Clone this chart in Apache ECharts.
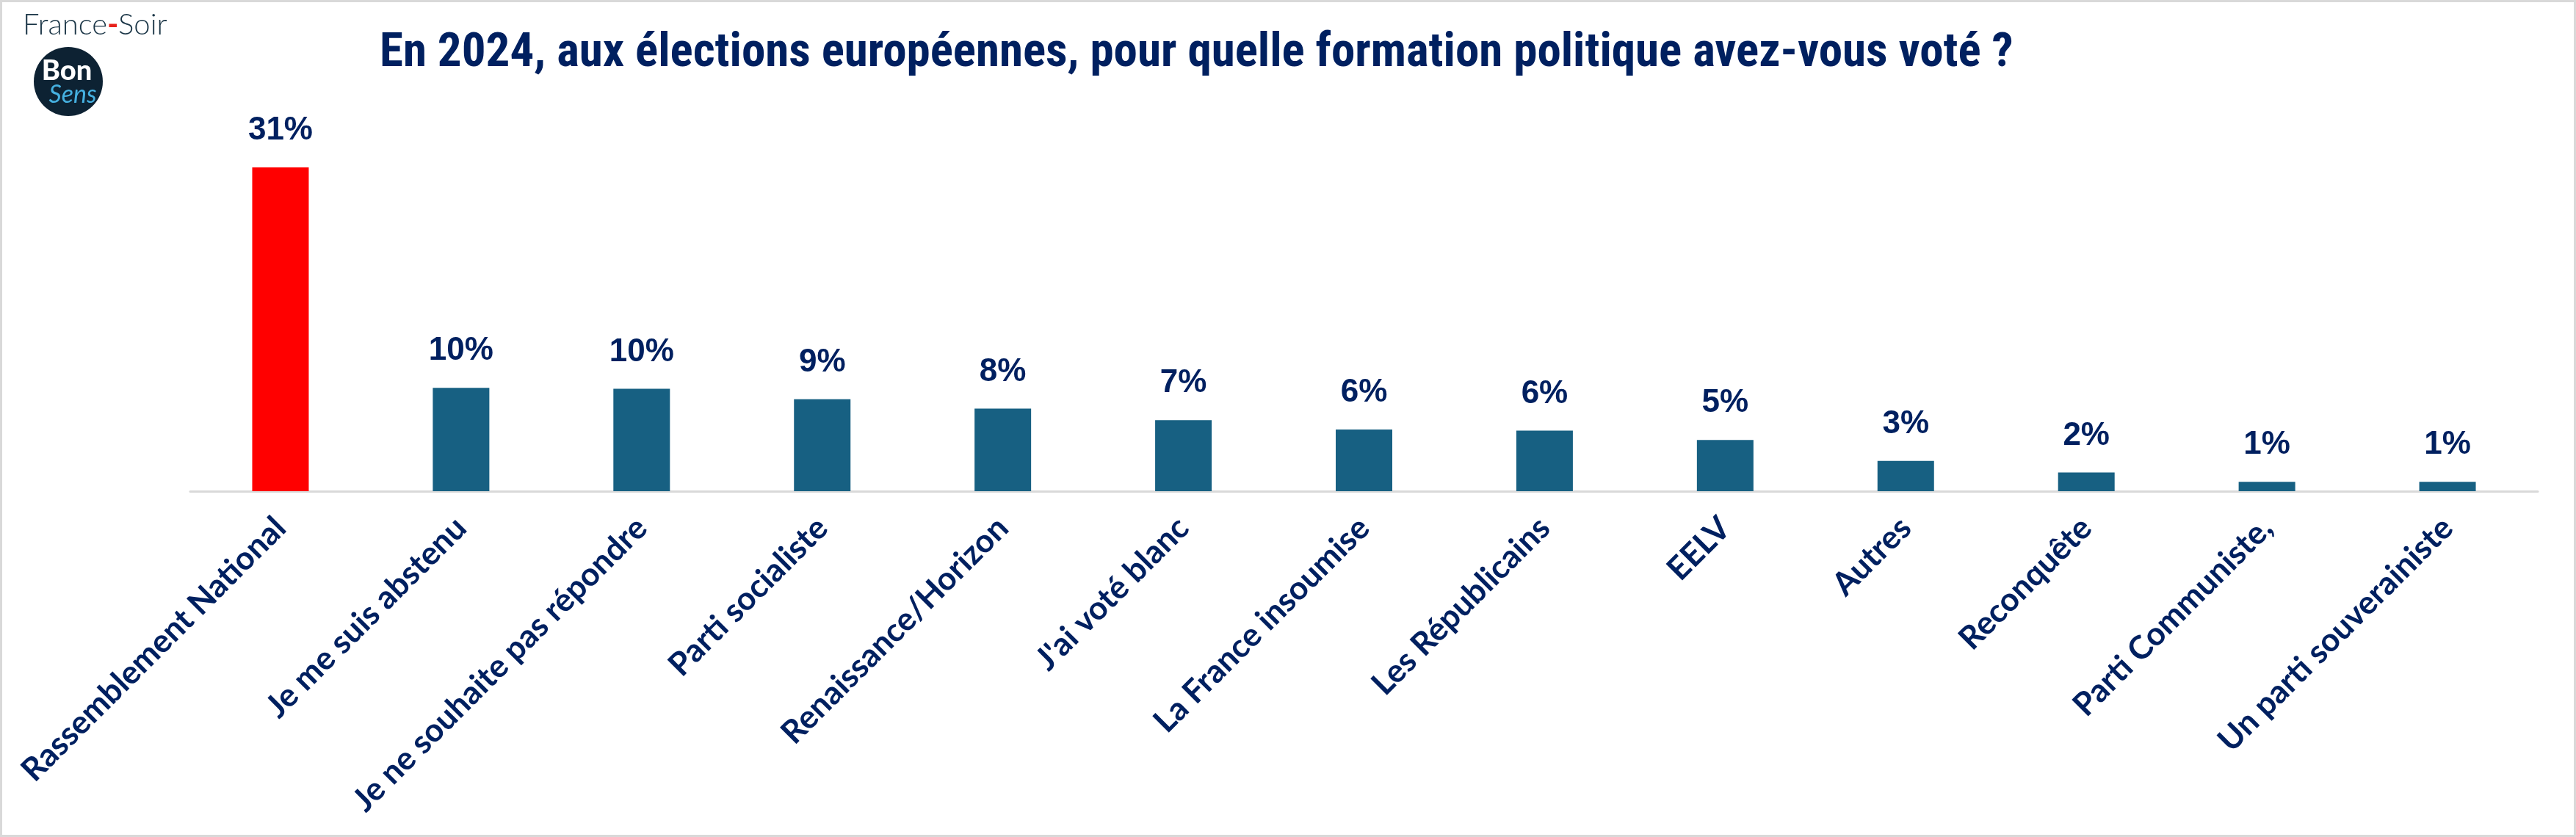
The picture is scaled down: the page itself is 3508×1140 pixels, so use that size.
<!DOCTYPE html>
<html>
<head>
<meta charset="utf-8">
<script src="https://cdn.jsdelivr.net/npm/echarts@6/dist/echarts.min.js"></script>
<style>
html,body{margin:0;padding:0;background:#fff;}
#chart{width:3508px;height:1140px;}
</style>
</head>
<body>
<div id="chart"></div>
<script>
const titleText = "En 2024, aux élections européennes, pour quelle formation politique avez-vous voté ?";
const categories = [
  "Rassemblement National",
  "Je me suis abstenu",
  "Je ne souhaite pas répondre",
  "Parti socialiste",
  "Renaissance/Horizon",
  "J'ai voté blanc",
  "La France insoumise",
  "Les Républicains",
  "EELV",
  "Autres",
  "Reconquête",
  "Parti Communiste,",
  "Un parti souverainiste"
];
const values = [31, 9.9, 9.8, 8.8, 7.9, 6.8, 5.9, 5.8, 4.9, 2.9, 1.8, 0.9, 0.9];
const highlightIndex = [0];

const NAVY = "#002060";
const TEAL = "#176082";
const RED = "#ff0000";

const chart = echarts.init(document.getElementById('chart'), null, {renderer: 'canvas'});

chart.setOption({
  backgroundColor: '#ffffff',
  animation: false,
  title: {
    text: titleText,
    left: 512,
    top: 36,
    textStyle: {
      fontFamily: '"Liberation Sans Narrow", "Arial Narrow", "Roboto Condensed", sans-serif',
      fontWeight: 'bold',
      fontSize: 65,
      color: NAVY
    }
  },
  grid: {
    left: 259,
    right: 52,
    top: 228,
    bottom: 471,
    containLabel: false
  },
  xAxis: {
    type: 'category',
    data: categories,
    axisTick: {show: false},
    axisLine: {show: true, lineStyle: {color: '#d9d9d9', width: 3}},
    axisLabel: {
      interval: 0,
      rotate: 45,
      margin: 43,
      fontFamily: 'Lato, "Open Sans", sans-serif',
      fontWeight: 'bold',
      fontSize: 44,
      color: NAVY
    }
  },
  yAxis: {
    type: 'value',
    min: 0,
    max: 31,
    show: false,
    splitLine: {show: false}
  },
  series: [{
    type: 'bar',
    data: values.map((v, i) => ({
      value: v,
      itemStyle: {color: highlightIndex.includes(i) ? RED : TEAL}
    })),
    barWidth: 77,
    label: {
      show: true,
      position: 'top',
      distance: 28,
      formatter: p => Math.round(p.value) + '%',
      fontFamily: '"Liberation Sans", Arial, sans-serif',
      fontWeight: 'bold',
      fontSize: 44,
      color: NAVY
    }
  }],
  graphic: [
    {
      type: 'rect',
      silent: true,
      shape: {x: 1.5, y: 1.5, width: 3505, height: 1137},
      style: {fill: 'none', stroke: '#d9d9d9', lineWidth: 3}
    },
    {
      type: 'text',
      left: 31,
      top: 14,
      style: {
        text: '{a|France}{b|-}{a|Soir}',
        rich: {
          a: {fontFamily: 'Lato, sans-serif', fontWeight: 300, fontSize: 40, fill: '#1b3647'},
          b: {fontFamily: 'Lato, sans-serif', fontWeight: 900, fontSize: 40, fill: '#e8221b'}
        }
      }
    },
    {
      type: 'circle',
      shape: {cx: 93, cy: 111, r: 47},
      style: {fill: '#0d2233'}
    },
    {
      type: 'text',
      x: 91,
      y: 97,
      style: {
        text: 'Bon',
        fontFamily: 'Lato, sans-serif',
        fontWeight: 900,
        fontSize: 38,
        fill: '#ffffff',
        align: 'center',
        verticalAlign: 'middle'
      }
    },
    {
      type: 'text',
      x: 99,
      y: 129,
      style: {
        text: 'Sens',
        fontFamily: 'Lato, sans-serif',
        fontStyle: 'italic',
        fontWeight: 400,
        fontSize: 34,
        fill: '#45b0e0',
        align: 'center',
        verticalAlign: 'middle'
      }
    }
  ]
});
</script>
</body>
</html>
